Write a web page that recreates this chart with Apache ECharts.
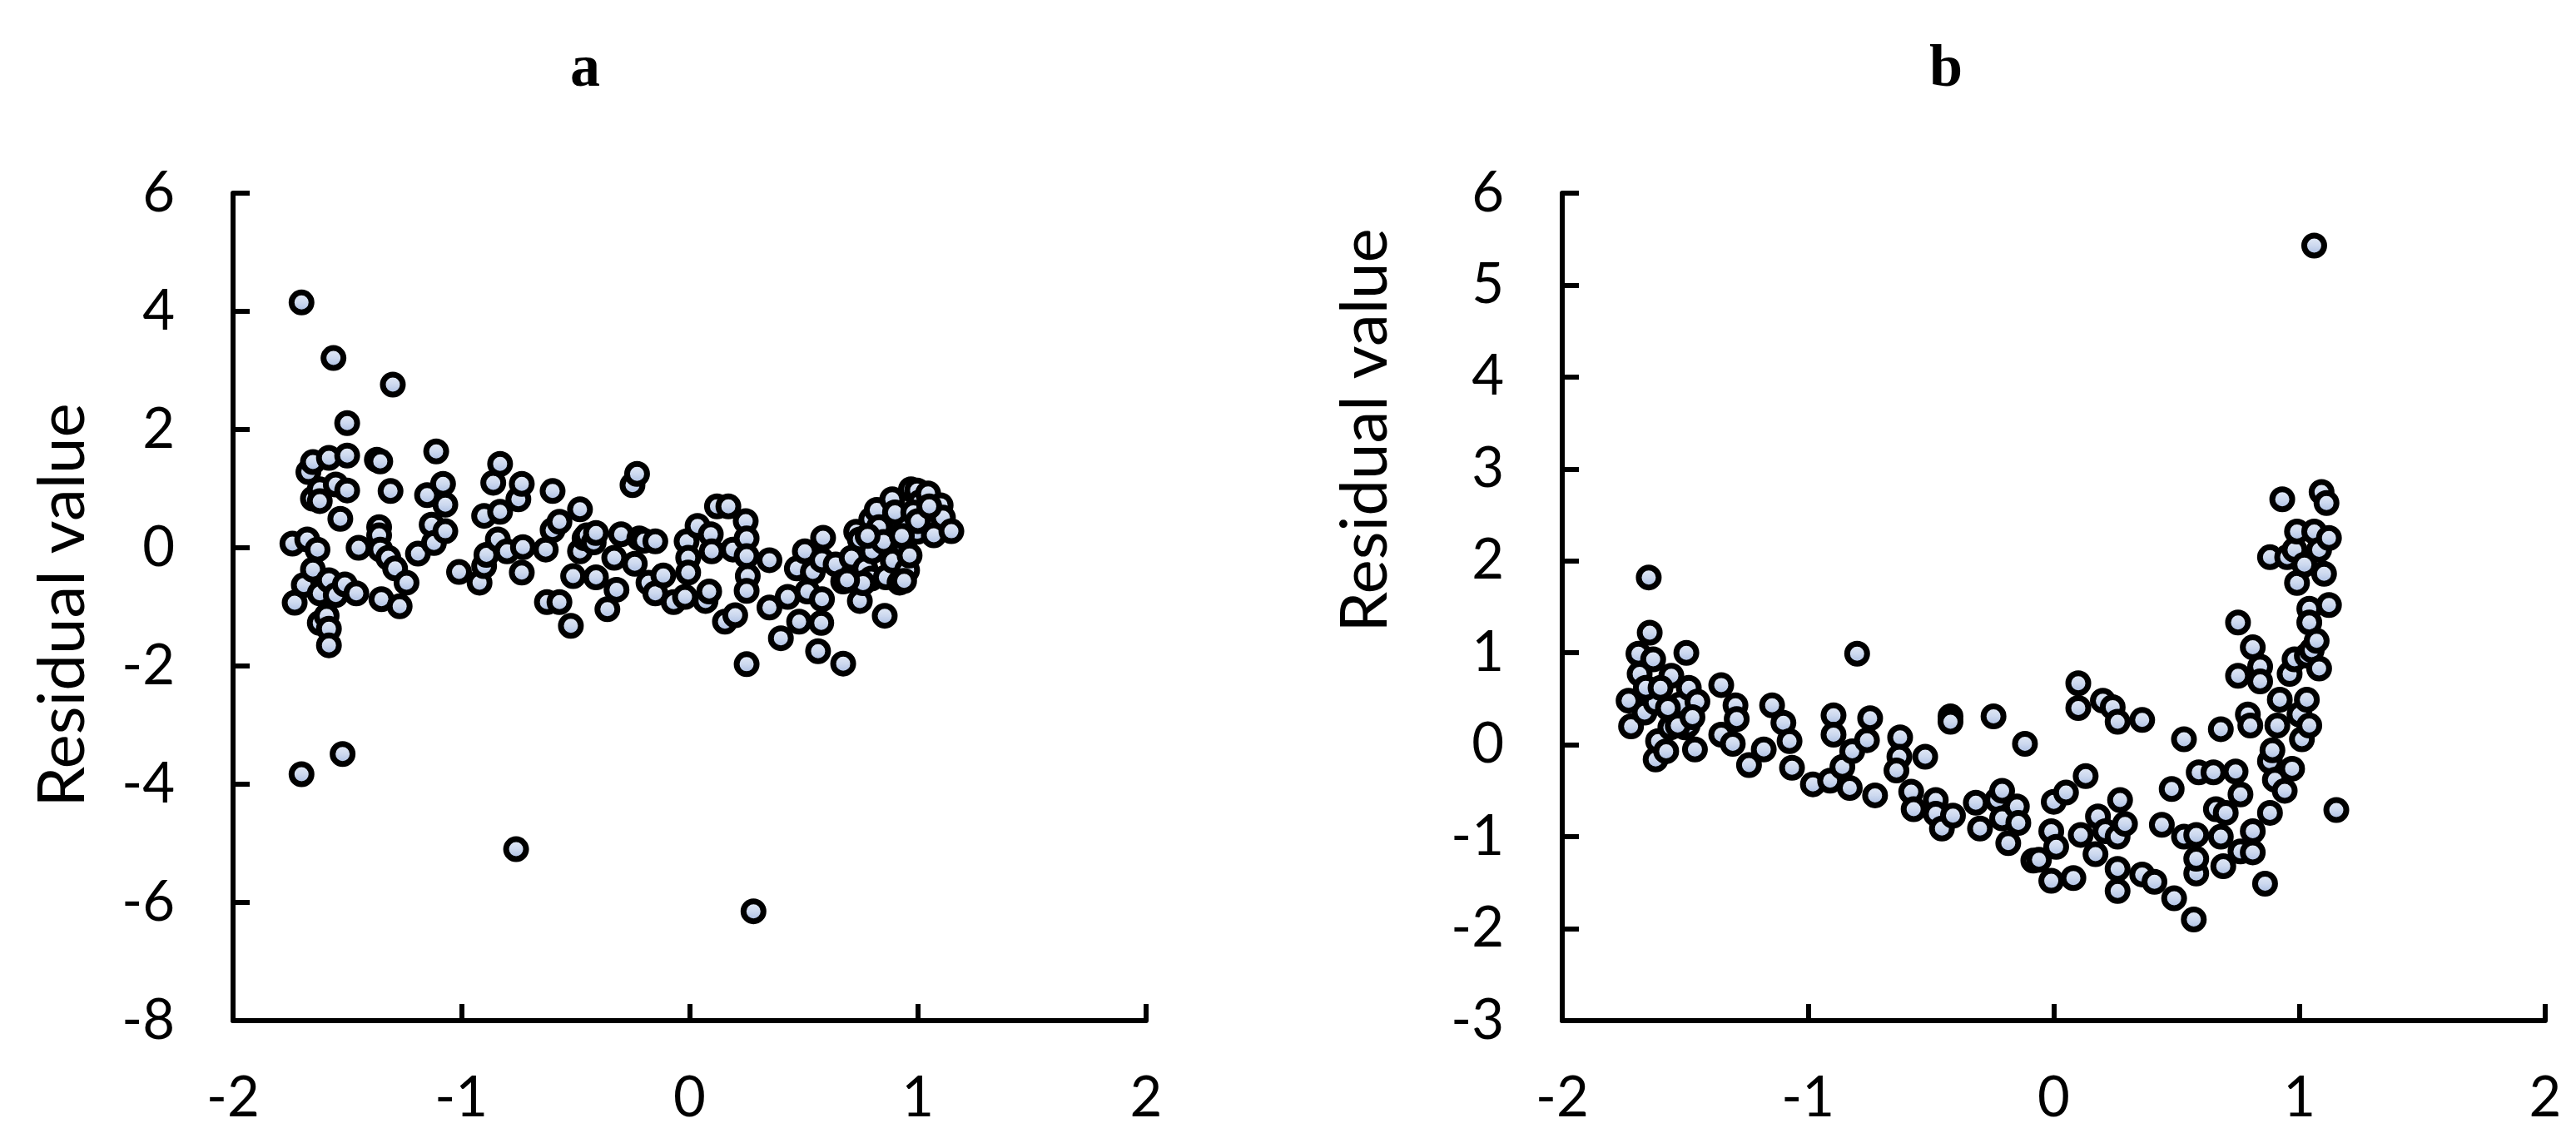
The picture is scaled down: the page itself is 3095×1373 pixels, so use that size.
<!DOCTYPE html>
<html>
<head>
<meta charset="utf-8">
<title>Residual plots</title>
<script src="https://cdn.jsdelivr.net/npm/echarts@6/dist/echarts.min.js"></script>
<style>
  html, body { margin: 0; padding: 0; background: #fff; }
  #chart { width: 3095px; height: 1373px; }
</style>
</head>
<body>
<div id="chart"></div>
<script>
// panel titles and axis text
const panelTitles = ['a', 'b'];
const yAxisTitle = 'Residual value';

// axis ranges / ticks
const xTicks = [-2, -1, 0, 1, 2];
const yTicksA = [-8, -6, -4, -2, 0, 2, 4, 6];
const yTicksB = [-3, -2, -1, 0, 1, 2, 3, 4, 5, 6];

// panel a: [x, residual]
const residualsA = [
  [-1.74, 0.07], [-1.73, -0.93], [-1.70, 4.15], [-1.70, -3.83], [-1.69, -0.63], [-1.675, 0.14],
  [-1.67, 1.28], [-1.65, 1.45], [-1.65, 0.83], [-1.65, -0.37], [-1.63, -0.03], [-1.62, 0.99],
  [-1.62, 0.79], [-1.62, -0.77], [-1.62, -1.27], [-1.59, -1.15], [-1.58, 1.52], [-1.58, -0.55],
  [-1.58, -1.37], [-1.58, -1.65], [-1.56, 3.21], [-1.55, 1.07], [-1.55, -0.80], [-1.53, 0.49],
  [-1.52, -3.49], [-1.51, -0.62], [-1.50, 2.11], [-1.50, 1.56], [-1.50, 0.97], [-1.46, -0.77],
  [-1.45, 0.0], [-1.37, 1.49], [-1.355, 1.46], [-1.36, 0.35], [-1.36, 0.21], [-1.355, -0.03],
  [-1.35, -0.87], [-1.32, -0.17], [-1.31, 0.96], [-1.30, 2.76], [-1.29, -0.35], [-1.27, -0.99],
  [-1.24, -0.59], [-1.19, -0.10], [-1.15, 0.89], [-1.13, 0.39], [-1.12, 0.08], [-1.11, 1.63],
  [-1.08, 1.08], [-1.07, 0.73], [-1.07, 0.28], [-1.01, -0.41], [-0.92, -0.59], [-0.90, -0.31],
  [-0.90, 0.54], [-0.89, -0.12], [-0.86, 1.10], [-0.84, 0.14], [-0.83, 1.42], [-0.83, 0.61],
  [-0.80, -0.06], [-0.76, -5.10], [-0.75, 0.82], [-0.735, 1.08], [-0.735, -0.42], [-0.73, 0.01],
  [-0.63, -0.03], [-0.625, -0.92], [-0.60, 0.96], [-0.60, 0.30], [-0.57, 0.44], [-0.57, -0.92],
  [-0.52, -1.32], [-0.51, -0.48], [-0.48, 0.65], [-0.48, -0.06], [-0.46, 0.16], [-0.45, 0.21],
  [-0.42, 0.09], [-0.41, 0.25], [-0.41, -0.50], [-0.36, -1.04], [-0.33, -0.17], [-0.32, -0.71],
  [-0.30, 0.23], [-0.25, 1.06], [-0.24, -0.27], [-0.23, 1.25], [-0.22, 0.16], [-0.20, 0.12],
  [-0.18, -0.59], [-0.15, 0.11], [-0.15, -0.77], [-0.115, -0.47], [-0.07, -0.92], [-0.02, -0.83],
  [-0.013, 0.11], [-0.006, -0.17], [-0.006, -0.42], [0.035, 0.37], [0.07, -0.90], [0.086, -0.74],
  [0.093, 0.23], [0.097, -0.06], [0.12, 0.70], [0.155, -1.25], [0.17, 0.70], [0.19, -0.03],
  [0.20, -1.14], [0.246, 0.45], [0.25, 0.16], [0.25, -0.14], [0.255, -0.48], [0.25, -0.73],
  [0.25, -1.97], [0.28, -6.15], [0.35, -0.21], [0.35, -1.01], [0.40, -1.53], [0.43, -0.83],
  [0.47, -0.35], [0.48, -1.25], [0.505, -0.06], [0.516, -0.74], [0.54, -0.41], [0.563, -1.75],
  [0.577, -1.27], [0.58, -0.87], [0.58, -0.21], [0.585, 0.17], [0.64, -0.28], [0.673, -0.57],
  [0.673, -1.96], [0.71, -0.17], [0.73, 0.27], [0.746, 0.14], [0.746, -0.90], [0.77, -0.35],
  [0.796, 0.48], [0.80, -0.06], [0.796, -0.52], [0.82, 0.64], [0.855, -1.15], [0.86, -0.50],
  [0.888, 0.82], [0.88, 0.23], [0.89, -0.22], [0.91, 0.49], [0.92, -0.59], [0.94, 0.04],
  [0.946, 0.46], [0.953, -0.38], [0.94, -0.56], [0.964, -0.13], [0.97, 0.99], [0.997, 0.97],
  [0.997, 0.27], [1.01, 0.77], [1.03, 0.64], [1.045, 0.92], [1.048, 0.48], [1.07, 0.21],
  [1.09, 0.64], [1.10, 0.72], [1.11, 0.51], [1.147, 0.28], [0.83, 0.35], [0.85, 0.10],
  [0.90, 0.60], [0.93, 0.20], [0.98, 0.60], [1.00, 0.45], [1.05, 0.70], [0.78, 0.20],
  [0.76, -0.60], [0.69, -0.55]
];

// panel b: [x, residual]
const residualsB = [
  [-1.73, 0.48], [-1.72, 0.20], [-1.69, 0.99], [-1.685, 0.77], [-1.665, 0.35], [-1.644, 1.22],
  [-1.648, 1.82], [-1.63, 0.93], [-1.62, 0.46], [-1.62, -0.16], [-1.61, 0.04], [-1.577, -0.07],
  [-1.556, 0.75], [-1.56, 0.19], [-1.52, 0.44], [-1.50, 0.19], [-1.495, 1.00], [-1.485, 0.62],
  [-1.46, -0.05], [-1.45, 0.47], [-1.49, 0.21], [-1.53, 0.21], [-1.66, 0.62], [-1.60, 0.62],
  [-1.57, 0.40], [-1.47, 0.30], [-1.353, 0.65], [-1.353, 0.11], [-1.306, 0.01], [-1.295, 0.43],
  [-1.29, 0.28], [-1.24, -0.22], [-1.18, -0.05], [-1.146, 0.43], [-1.10, 0.24], [-1.075, 0.04],
  [-1.065, -0.25], [-0.98, -0.43], [-0.91, -0.39], [-0.896, 0.32], [-0.896, 0.11], [-0.86, -0.24],
  [-0.83, -0.47], [-0.82, -0.07], [-0.80, 0.99], [-0.76, 0.05], [-0.747, 0.29], [-0.727, -0.55],
  [-0.625, 0.08], [-0.628, -0.13], [-0.64, -0.28], [-0.58, -0.51], [-0.57, -0.70], [-0.523, -0.13],
  [-0.48, -0.60], [-0.48, -0.75], [-0.455, -0.91], [-0.42, 0.31], [-0.42, 0.25], [-0.41, -0.77],
  [-0.317, -0.63], [-0.30, -0.91], [-0.245, 0.31], [-0.23, -0.60], [-0.21, -0.80], [-0.21, -0.50],
  [-0.185, -1.07], [-0.15, -0.67], [-0.144, -0.85], [-0.117, 0.01], [-0.083, -1.26],
  [-0.06, -1.25], [-0.01, -1.48], [-0.01, -0.94], [0.0, -0.62], [0.01, -1.11], [0.05, -0.52],
  [0.08, -1.45], [0.10, 0.67], [0.10, 0.40], [0.11, -0.98], [0.13, -0.34], [0.17, -1.19],
  [0.18, -0.78], [0.20, 0.48], [0.21, -0.94], [0.24, 0.41], [0.26, 0.25], [0.26, -1.35],
  [0.26, -1.59], [0.27, -0.60], [0.26, -1.0], [0.29, -0.86], [0.36, 0.27], [0.36, -1.41],
  [0.41, -1.49], [0.44, -0.87], [0.48, -0.48], [0.49, -1.67], [0.53, -1.0], [0.53, 0.06],
  [0.57, -1.90], [0.58, -1.40], [0.58, -1.24], [0.58, -0.98], [0.59, -0.30], [0.65, -0.30],
  [0.66, -0.70], [0.68, 0.17], [0.68, -1.0], [0.69, -1.32], [0.70, -0.74], [0.74, -0.29],
  [0.75, 1.33], [0.75, 0.75], [0.76, -1.16], [0.76, -0.54], [0.79, 0.33], [0.80, 0.21],
  [0.81, 1.06], [0.81, -0.94], [0.81, -1.17], [0.84, 0.85], [0.84, 0.69], [0.86, -1.51],
  [0.88, -0.74], [0.88, -0.18], [0.88, 2.04], [0.89, -0.06], [0.90, -0.38], [0.91, 0.21],
  [0.92, 0.49], [0.93, 2.67], [0.94, -0.50], [0.95, 2.04], [0.96, 0.77], [0.97, -0.26],
  [0.98, 2.12], [0.98, 0.93], [0.99, 2.32], [0.99, 1.76], [1.00, 0.33], [1.01, 0.06],
  [1.02, 1.96], [1.03, 0.49], [1.03, 0.97], [1.04, 1.48], [1.04, 1.33], [1.04, 0.21],
  [1.05, 1.03], [1.06, 2.32], [1.06, 5.43], [1.07, 1.13], [1.08, 2.12], [1.08, 0.83],
  [1.09, 2.75], [1.10, 1.86], [1.11, 2.63], [1.12, 2.25], [1.12, 1.52], [1.15, -0.71]
];

const chart = echarts.init(document.getElementById('chart'));

const tickFont = 'Lato';
const markerFill = new echarts.graphic.LinearGradient(0, 0, 0, 1, [
    { offset: 0, color: '#eef2fa' },
    { offset: 0.5, color: '#cdd9ef' },
    { offset: 1, color: '#9db3de' }
]);

function makeXAxis(gridIndex) {
    return {
        type: 'value',
        gridIndex: gridIndex,
        min: xTicks[0],
        max: xTicks[xTicks.length - 1],
        interval: 1,
        axisLine: { onZero: false, lineStyle: { color: '#000', width: 6 } },
        axisTick: { inside: true, length: 20, lineStyle: { color: '#000', width: 6 } },
        axisLabel: { margin: 60, color: '#000', fontFamily: tickFont, fontSize: 67 },
        splitLine: { show: false }
    };
}

function makeYAxis(gridIndex, ticks) {
    return {
        type: 'value',
        gridIndex: gridIndex,
        min: ticks[0],
        max: ticks[ticks.length - 1],
        interval: ticks[1] - ticks[0],
        axisLine: { onZero: false, lineStyle: { color: '#000', width: 6 } },
        axisTick: { inside: true, length: 20, lineStyle: { color: '#000', width: 6 } },
        axisLabel: { margin: 70, color: '#000', fontFamily: tickFont, fontSize: 67 },
        splitLine: { show: false }
    };
}

function makeSeries(index, data) {
    return {
        type: 'scatter',
        xAxisIndex: index,
        yAxisIndex: index,
        data: data,
        symbol: 'circle',
        symbolSize: 24,
        itemStyle: { color: markerFill, borderColor: '#000', borderWidth: 7, opacity: 1 },
        emphasis: { disabled: true }
    };
}

const option = {
    animation: false,
    backgroundColor: '#fff',
    grid: [
        { left: 280, top: 232, width: 1097, height: 994 },
        { left: 1877, top: 232, width: 1181, height: 994 }
    ],
    xAxis: [makeXAxis(0), makeXAxis(1)],
    yAxis: [makeYAxis(0, yTicksA), makeYAxis(1, yTicksB)],
    series: [makeSeries(0, residualsA), makeSeries(1, residualsB)],
    graphic: [
        {
            type: 'text', x: 703, y: 84,
            style: { text: panelTitles[0], font: 'bold 72px "Liberation Serif"', fill: '#000',
                     align: 'center', verticalAlign: 'middle' }
        },
        {
            type: 'text', x: 2338, y: 84,
            style: { text: panelTitles[1], font: 'bold 72px "Liberation Serif"', fill: '#000',
                     align: 'center', verticalAlign: 'middle' }
        },
        {
            type: 'text', x: 76, y: 727, rotation: Math.PI / 2,
            style: { text: yAxisTitle, font: '78px Lato', fill: '#000',
                     align: 'center', verticalAlign: 'middle' }
        },
        {
            type: 'text', x: 1641, y: 517, rotation: Math.PI / 2,
            style: { text: yAxisTitle, font: '78px Lato', fill: '#000',
                     align: 'center', verticalAlign: 'middle' }
        }
    ]
};

chart.setOption(option);

window.addEventListener('resize', function() {
    chart.resize();
});
</script>
</body>
</html>
